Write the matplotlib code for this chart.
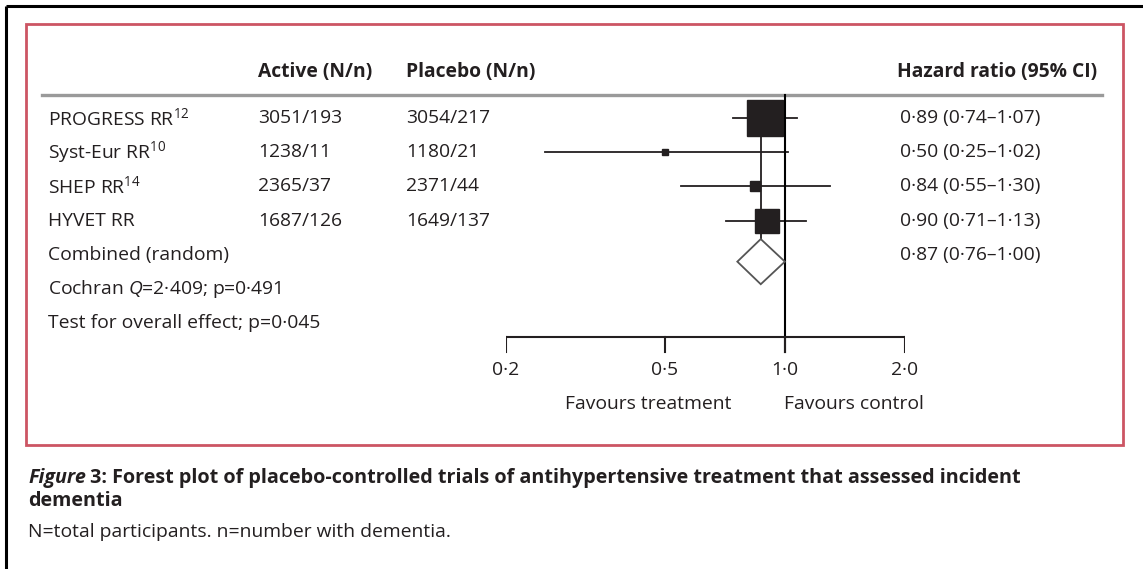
import numpy as np
import matplotlib
matplotlib.use('Agg')
import matplotlib.pyplot as plt
from matplotlib.patches import Polygon, Rectangle

# data
studies = ['PROGRESS RR', 'Syst-Eur RR', 'SHEP RR', 'HYVET RR']
refs = ['12', '10', '14', '']
active = ['3051/193', '1238/11', '2365/37', '1687/126']
placebo = ['3054/217', '1180/21', '2371/44', '1649/137']
hr = [0.89, 0.50, 0.84, 0.90]
lo = [0.74, 0.25, 0.55, 0.71]
hi = [1.07, 1.02, 1.30, 1.13]
weights = [64.5, 1.8, 5.0, 28.7]  # approx, from square areas
comb_hr, comb_lo, comb_hi = 0.87, 0.76, 1.00
ticks = [0.2, 0.5, 1.0, 2.0]
tick_labels = ['0·2', '0·5', '1·0', '2·0']
extra_rows = ['Combined (random)', 'Cochran $Q$=2·409; p=0·491', 'Test for overall effect; p=0·045']

W, H = 1143, 569
txt = '#231f20'
red = '#cc5563'
FONT = ['Open Sans', 'DejaVu Sans']
plt.rcParams['font.family'] = FONT
plt.rcParams['mathtext.fontset'] = 'custom'
plt.rcParams['mathtext.rm'] = FONT[0]
plt.rcParams['mathtext.it'] = FONT[0] + ':italic'
fs = 13.9

def fmt(v):
    return ('%.2f' % v).replace('.', '·')

def ypx(i):
    return 118 + 34.2 * i

fig = plt.figure(figsize=(W / 100, H / 100), dpi=100)
bg = fig.add_axes([0, 0, 1, 1])
bg.set_xlim(0, W)
bg.set_ylim(H, 0)
bg.axis('off')

# frames
bg.plot([6, 6], [6, H], color='black', lw=2.2, solid_capstyle='butt')
bg.plot([6, W], [6, 6], color='black', lw=2.2, solid_capstyle='butt')
bg.add_patch(Rectangle((26, 24), 1097, 421, fill=False, ec=red, lw=2))

# header
bg.text(258, 72, 'Active (N/n)', fontsize=fs, fontweight='bold', color=txt, va='center')
bg.text(406, 72, 'Placebo (N/n)', fontsize=fs, fontweight='bold', color=txt, va='center')
bg.text(1097, 72, 'Hazard ratio (95% CI)', fontsize=fs, fontweight='bold', color=txt,
        va='center', ha='right')
bg.plot([42, 1102], [95, 95], color='#9a9a9a', lw=2.4)

for i in range(len(studies)):
    lab = studies[i] + (r'$^{\mathrm{%s}}$' % refs[i] if refs[i] else '')
    bg.text(48, ypx(i), lab, fontsize=fs, color=txt, va='center')
    bg.text(258, ypx(i), active[i], fontsize=fs, color=txt, va='center')
    bg.text(406, ypx(i), placebo[i], fontsize=fs, color=txt, va='center')
    bg.text(900, ypx(i), '%s (%s–%s)' % (fmt(hr[i]), fmt(lo[i]), fmt(hi[i])),
            fontsize=fs, color=txt, va='center')
for j, lab in enumerate(extra_rows):
    bg.text(48, ypx(4 + j), lab, fontsize=fs, color=txt, va='center')
bg.text(900, ypx(4), '%s (%s–%s)' % (fmt(comb_hr), fmt(comb_lo), fmt(comb_hi)),
        fontsize=fs, color=txt, va='center')

# forest axes: log x, rows in y
ax = fig.add_axes([506 / W, 0, (905 - 506) / W, 1])
ax.set_xscale('log')
ax.set_xlim(0.2, 2.0)
ax.set_ylim((H - 118) / 34.2, -118 / 34.2)
ax.axis('off')
ax.patch.set_alpha(0)

def yrow(px):
    return (px - 118) / 34.2

for i in range(len(studies)):
    ax.plot([lo[i], hi[i]], [i, i], color=txt, lw=1.3)
    ax.plot(hr[i], i, marker='s', ms=3.24 * np.sqrt(weights[i]), color=txt, mec=txt)

# combined line and diamond
dh = 0.66
ax.plot([comb_hr, comb_hr], [0, 4.2 - dh], color=txt, lw=1.3, zorder=1)
ax.add_patch(Polygon([(comb_lo, 4.2), (comb_hr, 4.2 - dh), (comb_hi, 4.2), (comb_hr, 4.2 + dh)],
                     closed=True, fc='white', ec='#555555', lw=1.3, zorder=3))

# null line and axis
ax.plot([1, 1], [yrow(95), yrow(352)], color='black', lw=1.5)
ax.plot([ticks[0], ticks[-1]], [yrow(337), yrow(337)], color=txt, lw=1.5)
for t, tl in zip(ticks, tick_labels):
    ax.plot([t, t], [yrow(337), yrow(352)], color=txt, lw=1.5)
    ax.text(t, yrow(370), tl, fontsize=fs, color=txt, ha='center', va='center')
ax.text(0.98 * 0.75, yrow(404), 'Favours treatment', fontsize=fs, color=txt, ha='right', va='center')
ax.text(0.995, yrow(404), 'Favours control', fontsize=fs, color=txt, ha='left', va='center')

# caption, "Figure" in bold italic
fs_cap = 14.2
t1 = bg.text(28, 478, 'Figure', fontsize=fs_cap, fontweight='bold', fontstyle='italic',
             color=txt, va='center')
fig.canvas.draw()
x_end = t1.get_window_extent().x1
bg.text(x_end + 4, 478, '3: Forest plot of placebo-controlled trials of antihypertensive treatment that assessed incident',
        fontsize=fs_cap, fontweight='bold', color=txt, va='center')
bg.text(28, 501, 'dementia', fontsize=fs_cap, fontweight='bold', color=txt, va='center')
bg.text(28, 532, 'N=total participants. n=number with dementia.', fontsize=fs, color=txt, va='center')

fig.savefig('out.png', dpi=100)
